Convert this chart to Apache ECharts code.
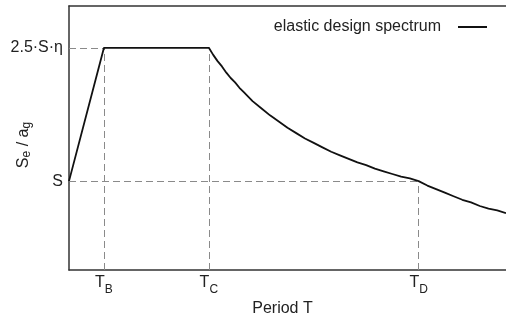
<!DOCTYPE html>
<html><head><meta charset="utf-8">
<script src="https://cdn.jsdelivr.net/npm/echarts@6/dist/echarts.min.js"></script>
<style>html,body{margin:0;padding:0;background:#fff}#c{width:506px;height:316px}</style>
</head><body><div id="c"></div>
<script>
// Period T (s) and Se/ag values
const periods = [0, 0.2, 0.8, 0.825, 0.85, 0.875, 0.9, 0.925, 0.95, 0.975, 1.0, 1.05, 1.1, 1.15, 1.2, 1.25, 1.3, 1.35, 1.4, 1.45, 1.5, 1.55, 1.6, 1.65, 1.7, 1.75, 1.8, 1.85, 1.9, 1.95, 2.0, 2.05, 2.1, 2.15, 2.2, 2.25, 2.3, 2.35, 2.4, 2.45, 2.5];
const spectrum = [1, 2.5, 2.5, 2.42, 2.35, 2.29, 2.22, 2.16, 2.11, 2.05, 2.0, 1.90, 1.82, 1.74, 1.67, 1.60, 1.54, 1.48, 1.43, 1.38, 1.33, 1.29, 1.25, 1.21, 1.18, 1.14, 1.11, 1.08, 1.05, 1.03, 1.0, 0.95, 0.91, 0.87, 0.83, 0.79, 0.76, 0.72, 0.69, 0.67, 0.64];
// Corner periods and levels
const TB = 0.2, TC = 0.8, TD = 2.0;
const levelS = 1, levelPlateau = 2.5;
const xTickValues = [TB, TC, TD];
const xTickLabels = ['B', 'C', 'D'];
const yTickValues = [levelS, levelPlateau];
const yTickLabels = ['S', '2.5·S·η'];

const font = 'Liberation Sans, Arial, Helvetica, sans-serif';
const chart = echarts.init(document.getElementById('c'));
const dash = {color: '#8a8a8a', width: 1, type: [7, 4]};
chart.setOption({
  animation: false,
  textStyle: {fontFamily: font},
  grid: {left: 69, right: 0, top: 6, bottom: 46, outerBoundsMode: 'none', containLabel: false},
  legend: {
    show: true, right: 19, top: 19, align: 'right', padding: 0,
    itemWidth: 29, itemHeight: 2, itemGap: 0,
    icon: 'rect',
    textStyle: {fontFamily: font, fontSize: 16, color: '#222', padding: [0, 12, 0, 0]},
    data: [{name: 'elastic design spectrum', icon: 'rect'}]
  },
  xAxis: [{
    type: 'value', min: 0, max: 2.5,
    name: 'Period T', nameLocation: 'middle', nameGap: 31, nameMoveOverlap: false,
    nameTextStyle: {fontFamily: font, fontSize: 16, color: '#222', padding: [0, 10, 0, 0]},
    axisLine: {show: true, lineStyle: {color: '#333', width: 1.5}},
    axisTick: {show: false},
    splitLine: {show: false},
    axisLabel: {
      customValues: xTickValues, margin: 5,
      formatter: v => { const i = xTickValues.findIndex(t => Math.abs(t - v) < 1e-6); return i < 0 ? '' : '{t|T}{s|' + xTickLabels[i] + '}'; },
      rich: {
        t: {fontFamily: font, fontSize: 16, color: '#222', verticalAlign: 'bottom'},
        s: {fontFamily: font, fontSize: 12, color: '#222', verticalAlign: 'bottom', padding: [0, 0, -5, 0]}
      }
    }
  }, {
    type: 'value', min: 0, max: 2.5, position: 'top',
    axisLine: {show: true, lineStyle: {color: '#333', width: 1.5}},
    axisTick: {show: false}, axisLabel: {show: false}, splitLine: {show: false}
  }],
  yAxis: {
    type: 'value', min: 0, max: 2.97,
    name: '{t|S}{s|e}{t| / a}{s|g}', nameLocation: 'middle', nameGap: 37, nameRotate: 90, nameMoveOverlap: false,
    nameTextStyle: {
      padding: [0, 14, 0, 0],
      rich: {
        t: {fontFamily: font, fontSize: 16, color: '#222'},
        s: {fontFamily: font, fontSize: 12, color: '#222', padding: [0, 0, -5, 0]}
      }
    },
    axisLine: {show: true, lineStyle: {color: '#333', width: 1.5}},
    axisTick: {show: false},
    splitLine: {show: false},
    axisLabel: {
      customValues: yTickValues, margin: 6,
      fontFamily: font, fontSize: 16, color: '#222',
      formatter: v => { const i = yTickValues.findIndex(t => Math.abs(t - v) < 1e-6); return i < 0 ? '' : yTickLabels[i]; }
    }
  },
  series: [{
    name: 'elastic design spectrum', type: 'line',
    data: periods.map((t, i) => [t, spectrum[i]]),
    showSymbol: false, symbol: 'none',
    itemStyle: {color: '#111'},
    lineStyle: {color: '#111', width: 1.8},
    z: 5,
    markLine: {
      silent: true, symbol: 'none', label: {show: false},
      lineStyle: dash,
      data: [
        [{coord: [0, levelPlateau], lineStyle: dash}, {coord: [TB, levelPlateau]}],
        [{coord: [0, levelS], lineStyle: dash}, {coord: [TD, levelS]}],
        [{coord: [TB, 0], lineStyle: dash}, {coord: [TB, levelPlateau]}],
        [{coord: [TC, 0], lineStyle: dash}, {coord: [TC, levelPlateau]}],
        [{coord: [TD, 0], lineStyle: dash}, {coord: [TD, levelS]}]
      ]
    }
  }]
});
</script></body></html>
